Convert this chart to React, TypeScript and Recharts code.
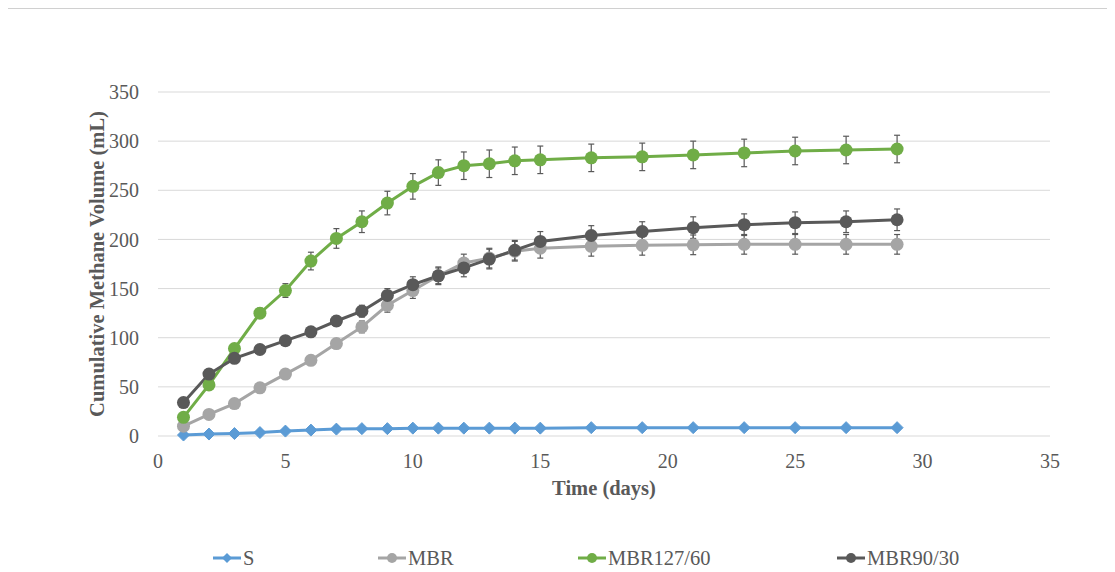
import React from 'react';
import {
  LineChart,
  Line,
  XAxis,
  YAxis,
  CartesianGrid,
  ErrorBar,
  Label,
} from 'recharts';

const days = [1, 2, 3, 4, 5, 6, 7, 8, 9, 10, 11, 12, 13, 14, 15, 17, 19, 21, 23, 25, 27, 29];

const sValues = [1, 2, 2.5, 3.5, 5, 6, 7, 7.5, 7.5, 8, 8, 8, 8, 8, 8, 8.5, 8.5, 8.5, 8.5, 8.5, 8.5, 8.5];
const mbrValues = [10, 22, 33, 49, 63, 77, 94, 111, 133, 148, 163, 176, 181, 188, 191, 193, 194, 194.5, 195, 195, 195, 195];
const mbr127Values = [19, 52, 89, 125, 148, 178, 201, 218, 237, 254, 268, 275, 277, 280, 281, 283, 284, 286, 288, 290, 291, 292];
const mbr90Values = [34, 63, 79, 88, 97, 106, 117, 127, 143, 154, 163, 171, 180, 189, 198, 204, 208, 212, 215, 217, 218, 220];

const mbrErr = [1, 1.5, 2, 3, 3.5, 4, 5, 6, 7, 8, 9, 9, 10, 10, 10, 10, 10, 10, 10, 10, 10, 10];
const mbr127Err = [2, 3, 4, 5, 7, 9, 10, 11, 12, 13, 13, 14, 14, 14, 14, 14, 14, 14, 14, 14, 14, 14];
const mbr90Err = [2, 3, 3, 4, 4, 5, 5, 6, 7, 8, 8, 9, 10, 10, 10, 10, 10, 11, 11, 11, 11, 11];

const xTicks = [0, 5, 10, 15, 20, 25, 30, 35];
const yTicks = [0, 50, 100, 150, 200, 250, 300, 350];

const series = [
  { key: 's', name: 'S', color: '#5b9bd5', shape: 'diamond' },
  { key: 'mbr', name: 'MBR', color: '#a5a5a5', shape: 'circle' },
  { key: 'mbr127', name: 'MBR127/60', color: '#70ad47', shape: 'circle' },
  { key: 'mbr90', name: 'MBR90/30', color: '#595959', shape: 'circle' },
];

const data = days.map((day, i) => ({
  day,
  s: sValues[i],
  mbr: mbrValues[i],
  mbrErr: mbrErr[i],
  mbr127: mbr127Values[i],
  mbr127Err: mbr127Err[i],
  mbr90: mbr90Values[i],
  mbr90Err: mbr90Err[i],
}));

const FONT = '"Liberation Serif", "Times New Roman", serif';
const TEXT = '#595959';

const Diamond = (props: any) => {
  const { cx, cy, fill } = props;
  if (cx == null || cy == null) return null;
  const r = 6;
  return (
    <polygon
      points={`${cx},${cy - r} ${cx + r},${cy} ${cx},${cy + r} ${cx - r},${cy}`}
      fill={fill}
      stroke={fill}
      strokeWidth={1}
    />
  );
};

// legend items are spread like the Excel original
const legendStarts = [213, 378, 578, 837];

const ChartLegend = () => (
  <div style={{ position: 'absolute', left: 0, top: 546, width: 1115, height: 24 }}>
    {series.map((s, i) => (
      <div
        key={s.key}
        style={{
          position: 'absolute',
          left: legendStarts[i],
          top: 0,
          display: 'flex',
          alignItems: 'center',
          fontFamily: FONT,
          fontSize: 20.5,
          color: TEXT,
          lineHeight: '24px',
        }}
      >
        <svg width={28} height={14}>
          <line x1={0} y1={7} x2={28} y2={7} stroke={s.color} strokeWidth={3} />
          {s.shape === 'diamond' ? (
            <polygon points="14,2 19,7 14,12 9,7" fill={s.color} />
          ) : (
            <circle cx={14} cy={7} r={5} fill={s.color} />
          )}
        </svg>
        <span style={{ marginLeft: 2 }}>{s.name}</span>
      </div>
    ))}
  </div>
);

export default function App() {
  return (
    <div style={{ position: 'relative', width: 1115, height: 572, margin: '-8px 0 0 -8px', background: '#fff', overflow: 'hidden' }}>
      <div
        style={{
          position: 'absolute',
          left: 3,
          top: 7,
          right: -4,
          bottom: -4,
          borderLeft: '2px solid #d0d0d0',
          borderTop: '2px solid #d0d0d0',
        }}
      />
      <LineChart
        width={1115}
        height={572}
        data={data}
        margin={{ top: 92, right: 65, left: 0, bottom: 76 }}
        style={{ position: 'absolute', left: 0, top: 0, fontFamily: FONT }}
      >
        <CartesianGrid vertical={false} stroke="#d9d9d9" strokeWidth={1} />
        <XAxis
          type="number"
          dataKey="day"
          domain={[0, 35]}
          ticks={xTicks}
          axisLine={false}
          tickLine={false}
          tickSize={0}
          tickMargin={18}
          height={60}
          tick={{ fontFamily: FONT, fontSize: 20, fill: TEXT }}
        >
          <Label
            value="Time (days)"
            position="insideBottom"
            offset={1}
            style={{ fontFamily: FONT, fontSize: 20.5, fontWeight: 'bold', fill: TEXT }}
          />
        </XAxis>
        <YAxis
          type="number"
          domain={[0, 350]}
          ticks={yTicks}
          axisLine={false}
          tickLine={false}
          tickSize={0}
          tickMargin={19}
          width={158}
          tick={{ fontFamily: FONT, fontSize: 20, fill: TEXT }}
        >
          <Label
            value="Cumulative Methane Volume (mL)"
            angle={-90}
            position="insideLeft"
            offset={97}
            style={{ fontFamily: FONT, fontSize: 20.5, fontWeight: 'bold', fill: TEXT, textAnchor: 'middle' }}
          />
        </YAxis>
        <Line
          type="linear"
          dataKey="s"
          name="S"
          stroke="#5b9bd5"
          strokeWidth={3}
          dot={<Diamond fill="#5b9bd5" />}
          isAnimationActive={false}
        />
        <Line
          type="linear"
          dataKey="mbr"
          name="MBR"
          stroke="#a5a5a5"
          strokeWidth={3}
          dot={{ r: 6.5, fill: '#a5a5a5', stroke: '#a5a5a5', strokeWidth: 0 }}
          isAnimationActive={false}
        >
          <ErrorBar dataKey="mbrErr" width={3} stroke="#595959" strokeWidth={1.2} direction="y" />
        </Line>
        <Line
          type="linear"
          dataKey="mbr127"
          name="MBR127/60"
          stroke="#70ad47"
          strokeWidth={3}
          dot={{ r: 6.5, fill: '#70ad47', stroke: '#70ad47', strokeWidth: 0 }}
          isAnimationActive={false}
        >
          <ErrorBar dataKey="mbr127Err" width={3} stroke="#595959" strokeWidth={1.2} direction="y" />
        </Line>
        <Line
          type="linear"
          dataKey="mbr90"
          name="MBR90/30"
          stroke="#595959"
          strokeWidth={3}
          dot={{ r: 6.5, fill: '#595959', stroke: '#595959', strokeWidth: 0 }}
          isAnimationActive={false}
        >
          <ErrorBar dataKey="mbr90Err" width={3} stroke="#595959" strokeWidth={1.2} direction="y" />
        </Line>
      </LineChart>
      <ChartLegend />
    </div>
  );
}
